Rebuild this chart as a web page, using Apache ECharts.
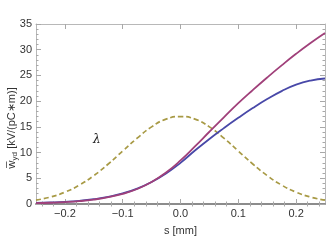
<!DOCTYPE html>
<html><head><meta charset="utf-8">
<script src="https://cdn.jsdelivr.net/npm/echarts@6/dist/echarts.min.js"></script>
<style>html,body{margin:0;padding:0;background:#fff}#c{width:329px;height:248px}</style>
</head><body><div id="c"></div>
<script>
// s [mm]
const sValues = [-0.25,-0.225,-0.2,-0.175,-0.15,-0.125,-0.1,-0.075,-0.05,-0.025,0,0.025,0.05,0.075,0.1,0.125,0.15,0.175,0.2,0.225,0.25];
// blue curve
const wBlue = [0.22,0.30,0.42,0.62,0.94,1.40,2.06,3.00,4.28,5.94,8.00,10.4,12.65,14.75,16.75,18.65,20.4,21.95,23.2,24.0,24.4];
// purple curve
const wPurple = [0.16,0.24,0.36,0.55,0.86,1.32,1.98,2.92,4.27,6.12,8.47,11.2,14.05,16.85,19.6,22.15,24.6,26.95,29.2,31.3,33.25];
// lambda (dashed)
const lambda = [0.75,1.35,2.30,3.68,5.52,7.78,10.3,12.8,15.0,16.5,17.0,16.5,15.0,12.8,10.3,7.78,5.52,3.68,2.30,1.35,0.75];

const xMajorTicks = [-0.2,-0.1,0,0.1,0.2];
const xMinorTicks = [-0.24,-0.22,-0.18,-0.16,-0.14,-0.12,-0.08,-0.06,-0.04,-0.02,0.02,0.04,0.06,0.08,0.12,0.14,0.16,0.18,0.22,0.24];
const yMin = 0, yMax = 35, yStep = 5;

const FONT = '"Liberation Sans", Arial, sans-serif';
const frameColor = '#b8b8b8';
const tickColor = '#a8a8a8';

function pairs(v){ return sValues.map((x,i)=>[x, v[i]]); }
function fmtX(v){ const t = Math.abs(v).toFixed(1); return v < -1e-9 ? '\u2212' + t : t; }

const chart = echarts.init(document.getElementById('c'), null, {renderer:'canvas'});
const baseX = {type:'value', min:-0.25, max:0.25, splitLine:{show:false}};
chart.setOption({
  animation:false,
  grid:{left:36, right:4, top:24, bottom:44, containLabel:false},
  xAxis:[
    Object.assign({}, baseX, {position:'bottom',
      name:'s [mm]', nameLocation:'middle', nameGap:21,
      nameTextStyle:{fontFamily:FONT, fontSize:11, color:'#333'},
      axisLine:{show:true, onZero:false, lineStyle:{color:'#8c8c8c', width:2}},
      axisTick:{show:true, inside:true, length:5, customValues:xMajorTicks, lineStyle:{color:tickColor}},
      axisLabel:{show:true, customValues:xMajorTicks, formatter:fmtX, margin:4,
        fontFamily:FONT, fontSize:11, color:'#333'}}),
    Object.assign({}, baseX, {position:'bottom',
      axisLine:{show:false}, axisLabel:{show:false},
      axisTick:{show:true, inside:true, length:2.5, customValues:xMinorTicks, lineStyle:{color:tickColor}}}),
    Object.assign({}, baseX, {position:'top',
      axisLine:{show:true, onZero:false, lineStyle:{color:frameColor, width:1}}, axisLabel:{show:false},
      axisTick:{show:true, inside:true, length:5, customValues:xMajorTicks, lineStyle:{color:tickColor}}}),
    Object.assign({}, baseX, {position:'top',
      axisLine:{show:false}, axisLabel:{show:false},
      axisTick:{show:true, inside:true, length:2.5, customValues:xMinorTicks, lineStyle:{color:tickColor}}})
  ],
  yAxis:[
    {type:'value', min:yMin, max:yMax, interval:yStep, position:'left',
      splitLine:{show:false},
      axisLine:{show:true, onZero:false, lineStyle:{color:frameColor, width:1}},
      axisTick:{show:true, inside:true, length:5, lineStyle:{color:tickColor}},
      minorTick:{show:true, splitNumber:5, length:2.5, lineStyle:{color:tickColor}},
      axisLabel:{margin:4, fontFamily:FONT, fontSize:11, color:'#333'}},
    {type:'value', min:yMin, max:yMax, interval:yStep, position:'right',
      splitLine:{show:false},
      axisLine:{show:true, onZero:false, lineStyle:{color:frameColor, width:1}},
      axisTick:{show:true, inside:true, length:5, lineStyle:{color:tickColor}},
      minorTick:{show:true, splitNumber:5, length:2.5, lineStyle:{color:tickColor}},
      axisLabel:{show:false}}
  ],
  series:[
    {type:'line', name:'lambda', data:pairs(lambda), smooth:true, symbol:'none',
      lineStyle:{color:'#a89a45', width:1.7, type:[5,3]}},
    {type:'line', name:'blue', data:pairs(wBlue), smooth:true, symbol:'none',
      lineStyle:{color:'#4848a8', width:1.8}},
    {type:'line', name:'purple', data:pairs(wPurple), smooth:true, symbol:'none',
      lineStyle:{color:'#a0407a', width:1.8}}
  ],
  graphic:[
    {type:'text', left:93, top:134, style:{text:'\u03bb', fontFamily:'"DejaVu Serif", serif', fontStyle:'italic', fontSize:12, fill:'#222'}},
    {type:'text', x:12, y:128, rotation:Math.PI/2,
      style:{text:'{a|w\u0305}{b|yd}{c| [kV/(pC\u2217m)]}', align:'center', verticalAlign:'middle',
        fontFamily:FONT, fontSize:11, fill:'#333',
        rich:{a:{fontFamily:FONT, fontSize:11.5, fill:'#333'},
              b:{fontFamily:FONT, fontSize:8, fill:'#333', padding:[6,0,0,0]},
              c:{fontFamily:FONT, fontSize:11, fill:'#333'}}}}
  ]
});
</script></body></html>
